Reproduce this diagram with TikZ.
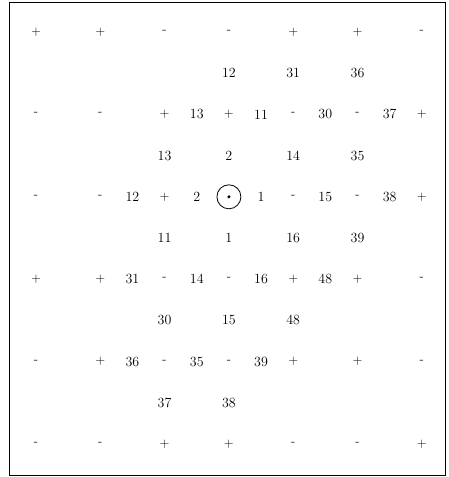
\documentclass[tikz,border=0pt]{standalone}
\usepackage{tikz}

\begin{document}
\begin{tikzpicture}[
    x=32.15pt, y=-41.2pt,
    num/.style={inner sep=0pt, font=\fontsize{14}{16}\selectfont},
    sgn/.style={inner sep=0pt, font=\fontsize{13}{15}\selectfont},
]
\useasboundingbox (-1.120,-0.777) rectangle (12.815,10.801);

% =============================================
% FRAME
% =============================================
\draw[line width=0.9pt] (-0.840,-0.716) rectangle (12.738,10.752);

% =============================================
% SIGNS on the coarse lattice
% =============================================
\foreach \k/\j/\t in {
  0/0/+, 2/0/+, 4/0/-, 6/0/-, 8/0/+, 10/0/+, 12/0/-,
  0/2/-, 2/2/-, 4/2/+, 6/2/+, 8/2/-, 10/2/-, 12/2/+,
  0/4/-, 2/4/-, 4/4/+, 8/4/-, 10/4/-, 12/4/+,
  0/6/+, 2/6/+, 4/6/-, 6/6/-, 8/6/+, 10/6/+, 12/6/-,
  0/8/-, 2/8/+, 4/8/-, 6/8/-, 8/8/+, 10/8/+, 12/8/-,
  0/10/-, 2/10/-, 4/10/+, 6/10/+, 8/10/-, 10/10/-, 12/10/+}
  \node[sgn] (s-\k-\j) at (\k,\j) {\t};

% Centre site – circled dot
\node[draw, circle, line width=0.8pt, minimum size=24pt, inner sep=0pt] (obs) at (6,4) {};
\fill (obs.center) circle (1.7pt);

% =============================================
% NUMBERS on the half lattice
% =============================================
\foreach \k/\j/\t in {
  6/1/12, 8/1/31, 10/1/36,
  5/2/13, 7/2/11, 9/2/30, 11/2/37,
  4/3/13, 6/3/2, 8/3/14, 10/3/35,
  3/4/12, 5/4/2, 7/4/1, 9/4/15, 11/4/38,
  4/5/11, 6/5/1, 8/5/16, 10/5/39,
  3/6/31, 5/6/14, 7/6/16, 9/6/48,
  4/7/30, 6/7/15, 8/7/48,
  3/8/36, 5/8/35, 7/8/39,
  4/9/37, 6/9/38}
  \node[num] (n-\k-\j) at (\k,\j) {\t};

\end{tikzpicture}
\end{document}
